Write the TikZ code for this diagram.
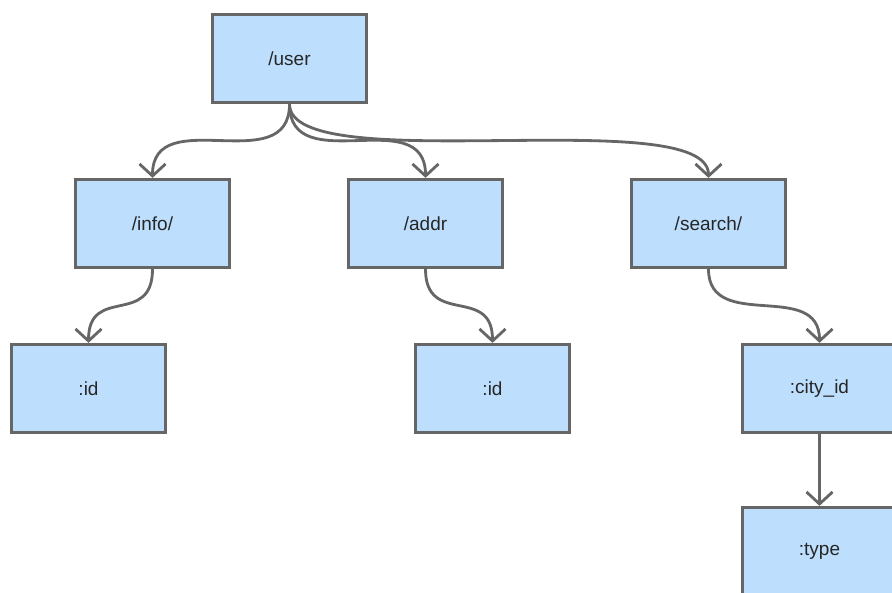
\documentclass[tikz,border=0pt]{standalone}
\usepackage{fontspec}
\setmainfont{Liberation Sans}
\usepackage{xcolor}
\usetikzlibrary{
		arrows.meta,
		positioning
	}
\definecolor{boxfill}{HTML}{BDDFFD}
\definecolor{boxline}{HTML}{666666}
\tikzset{
		>={Straight Barb[length=0.3cm,width=0.65cm]},
		routebox/.style={draw=boxline, fill=boxfill, line width=2.3pt,
			minimum width=3.85cm, minimum height=2.2cm,
			font=\fontsize{13.5}{16}\selectfont, text=black!85},
		link/.style={->, draw=boxline, line width=2pt}
	}

\begin{document}
\begin{tikzpicture}[x=0.025cm, y=-0.025cm]
          \useasboundingbox (0,0) rectangle (892,592);
          \clip (0,0) rectangle (892,592);

          \node[routebox] (user) at (289.5,58.5) {/user};

          \node[routebox] (info) at (152.5,223.5) {/info/};
          \node[routebox] (addr) at (425.5,223.5) {/addr};
          \node[routebox] (search) at (708.5,223.5) {/search/};

          \node[routebox] (infoid) at (88.5,388.5) {:id};
          \node[routebox] (addrid) at (492.5,388.5) {:id};
          \node[routebox] (city) at (819.5,388.5) {:city\_id};
          \node[routebox] (type) at (819.5,551.5) {:type};

          \draw[link] (user.south) .. controls +(0,76) and +(0,-76) .. (info.north);
          \draw[link] (user.south) .. controls +(0,76) and +(0,-76) .. (addr.north);
          \draw[link] (user.south) .. controls +(0,76) and +(0,-76) .. (search.north);

          \draw[link] (info.south) .. controls +(0,58) and +(0,-58) .. (infoid.north);
          \draw[link] (addr.south) .. controls +(0,58) and +(0,-58) .. (addrid.north);
          \draw[link] (search.south) .. controls +(0,64) and +(0,-64) .. (city.north);
          \draw[link] (city) -- (type);

          \end{tikzpicture}
\end{document}
